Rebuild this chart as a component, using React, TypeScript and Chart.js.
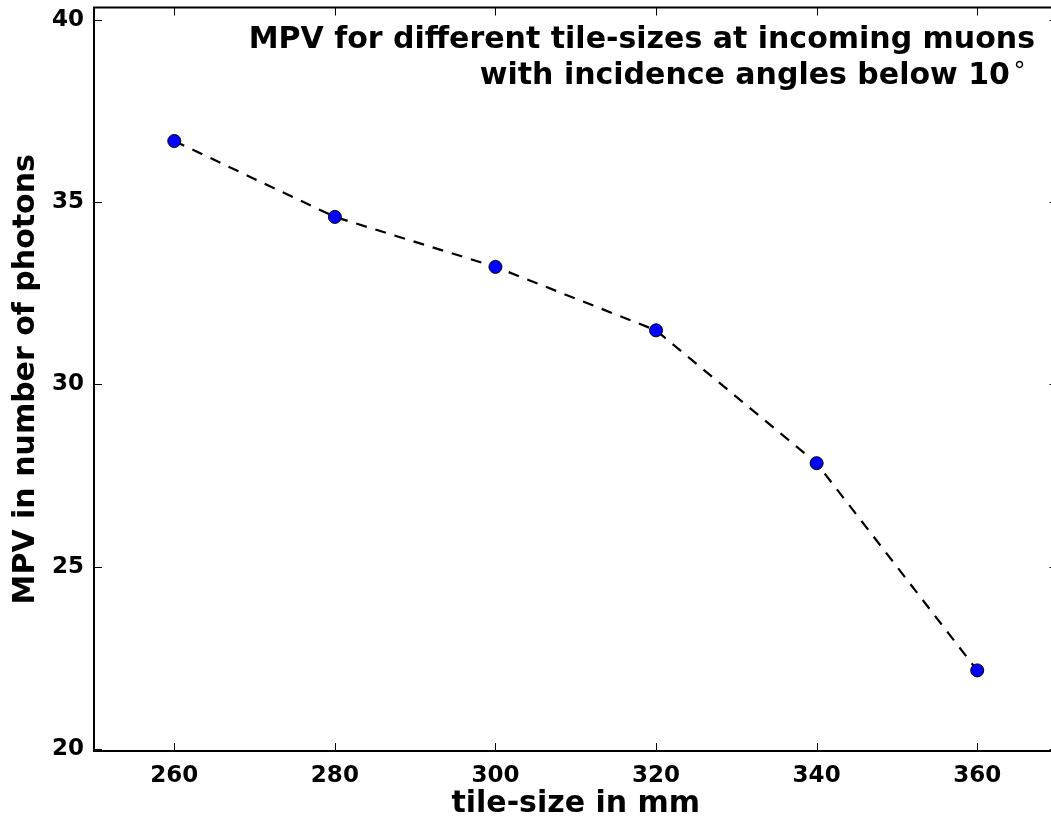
import React, { useEffect, useRef } from "react";
import { Chart, registerables } from "chart.js";

Chart.register(...registerables);

const tileSizes = [260, 280, 300, 320, 340, 360];
const mpvValues = [36.67, 34.59, 33.22, 31.48, 27.84, 22.16];
const xTicks = [260, 280, 300, 320, 340, 360];
const yTicks = [20, 25, 30, 35, 40];
const titleLines = ["MPV for different tile-sizes at incoming muons", "with incidence angles below 10"];

const FONT = "'DejaVu Sans', sans-serif";
const W = 1065;

const framePlugin = {
  id: "frame",
  afterDatasetsDraw(chart: any) {
    const { ctx, chartArea: a, scales } = chart;
    ctx.save();
    ctx.strokeStyle = "#000";
    ctx.lineWidth = 1;
    const L = 8;
    xTicks.forEach((v) => {
      const x = Math.round(scales.x.getPixelForValue(v)) + 0.5;
      ctx.beginPath();
      ctx.moveTo(x, a.bottom);
      ctx.lineTo(x, a.bottom - L);
      ctx.moveTo(x, a.top);
      ctx.lineTo(x, a.top + L);
      ctx.stroke();
    });
    yTicks.forEach((v) => {
      const y = Math.round(scales.y.getPixelForValue(v)) + 0.5;
      ctx.beginPath();
      ctx.moveTo(a.left, y);
      ctx.lineTo(a.left + L, y);
      ctx.moveTo(a.right, y);
      ctx.lineTo(a.right - L, y);
      ctx.stroke();
    });
    ctx.lineWidth = 2;
    ctx.strokeRect(a.left, a.top, a.right - a.left, a.bottom - a.top);
    // title
    ctx.fillStyle = "#000";
    ctx.textAlign = "right";
    ctx.textBaseline = "alphabetic";
    ctx.font = `bold 30px ${FONT}`;
    const rx = 1035;
    ctx.fillText(titleLines[0], rx, 48);
    ctx.font = `24px ${FONT}`;
    const degW = ctx.measureText("\u2218").width;
    ctx.fillText("\u2218", rx - 8, 72);
    ctx.font = `bold 30px ${FONT}`;
    ctx.fillText(titleLines[1], rx - degW - 10, 84);
    ctx.restore();
  },
};

export default function App() {
  const ref = useRef<HTMLCanvasElement | null>(null);
  useEffect(() => {
    document.body.style.margin = "0";
    document.body.style.overflow = "hidden";
    const chart = new Chart(ref.current as HTMLCanvasElement, {
      type: "line",
      data: {
        datasets: [
          {
            data: tileSizes.map((x, i) => ({ x, y: mpvValues[i] })),
            borderColor: "#000",
            borderWidth: 2.2,
            borderDash: [11, 9],
            backgroundColor: "#0000ff",
            pointBackgroundColor: "#0000ff",
            pointBorderColor: "#000",
            pointBorderWidth: 1,
            pointRadius: 6.5,
            tension: 0,
            fill: false,
          },
        ],
      },
      plugins: [framePlugin],
      options: {
        animation: false,
        responsive: false,
        layout: { padding: { top: 5, right: 3, left: 0, bottom: 0 } },
        plugins: { legend: { display: false }, tooltip: { enabled: false }, title: { display: false } },
        scales: {
          x: {
            type: "linear",
            min: 250,
            max: 370,
            afterBuildTicks: (s: any) => {
              s.ticks = xTicks.map((v) => ({ value: v }));
            },
            afterFit: (s: any) => {
              s.height = 67;
              s.paddingLeft = 0;
              s.paddingRight = 0;
            },
            grid: { display: false, drawTicks: false },
            border: { display: false },
            ticks: { color: "#000", font: { family: FONT, size: 23, weight: "bold" }, padding: 11, maxRotation: 0 },
            title: {
              display: true,
              text: "tile-size in mm",
              color: "#000",
              font: { family: FONT, size: 30, weight: "bold" },
              padding: { top: 0, bottom: -4 },
            },
          },
          y: {
            type: "linear",
            min: 19.95,
            max: 40.33,
            afterBuildTicks: (s: any) => {
              s.ticks = yTicks.map((v) => ({ value: v }));
            },
            afterFit: (s: any) => {
              s.width = 94;
              s.paddingTop = 0;
              s.paddingBottom = 0;
            },
            grid: { display: false, drawTicks: false },
            border: { display: false },
            ticks: { color: "#000", font: { family: FONT, size: 23, weight: "bold" }, padding: 10 },
            title: {
              display: true,
              text: "MPV in number of photons",
              color: "#000",
              font: { family: FONT, size: 30, weight: "bold" },
              padding: { top: 8, bottom: 0 },
            },
          },
        },
      },
    } as any);
    return () => chart.destroy();
  }, []);
  return (
    <div style={{ position: "fixed", left: 0, top: 0, width: W, height: 818, background: "#fff" }}>
      <canvas ref={ref} width={W} height={818} style={{ width: W, height: 818, display: "block" }} />
    </div>
  );
}
